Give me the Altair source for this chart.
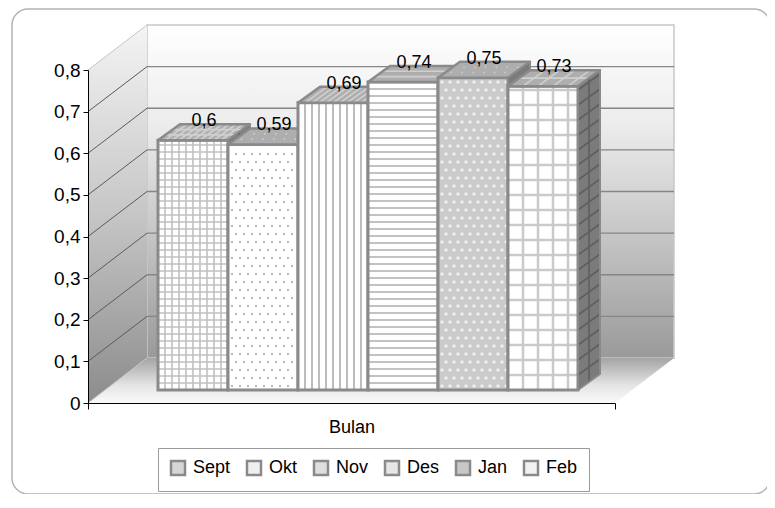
import altair as alt
import pandas as pd

# ---------------- data ----------------
months = ["Sept", "Okt", "Nov", "Des", "Jan", "Feb"]
values = [0.60, 0.59, 0.69, 0.74, 0.75, 0.73]
value_labels = ["0,6", "0,59", "0,69", "0,74", "0,75", "0,73"]
y_ticks = [0.0, 0.1, 0.2, 0.3, 0.4, 0.5, 0.6, 0.7, 0.8]
x_title = "Bulan"

# ---------------- styles ----------------
front_fills = ["#ffffff", "#ffffff", "#ffffff", "#ffffff", "#cbcbcb", "#ffffff"]
legend_fills = ["#d6d6d6", "#efefef", "#dedede", "#e6e6e6", "#c8c8c8", "#f2f2f2"]
# (kind, step in px, color, width)
patterns = [("grid", 7, "#c0c0c0", 1.6), ("dots", 8, "#b8b8b8", 4), ("v", 7, "#bcbcbc", 2.0),
            ("h", 7, "#c2c2c2", 2.0), ("dots", 8, "#f4f4f4", 7), ("grid", 15, "#cacaca", 2.5)]
TOP_FILL = "#aeaeae"
TOP_LINE = "#cfcfcf"
SIDE_FILL = "#7b7b7b"
SIDE_LINE = "#5f5f5f"
FONT = "Liberation Sans"
EDGE = "#8a8a8a"

# ---------------- geometry (plot-area units) ----------------
W, H = 527, 333
YMAX = 0.8
PX = 1.0 / W
PY = YMAX / H
DX, DY = 59 * PX, 45 * PY      # full depth of the box
FX, FY = 17.5 * PX, 13 * PY    # depth of bar front faces
TX, TY = 22 * PX, 16 * PY      # depth of the bars
BW = 70 * PX
START = 52.5 * PX

xs = alt.Scale(domain=[0, 1], nice=False, zero=False)
ys = alt.Scale(domain=[0, YMAX], nice=False, zero=False)

XAXIS = alt.Axis(
    values=[0, 1], labels=False, ticks=True, tickSize=6, tickColor="black",
    domainColor="black", domainWidth=1, grid=False, title=x_title,
    titleFont=FONT, titleFontSize=18, titleFontWeight="normal",
    titleColor="black", titlePadding=9, zindex=1)
YAXIS = alt.Axis(
    values=y_ticks, labelExpr="replace(format(datum.value, '~g'), '.', ',')",
    tickSize=5, tickColor="black", domainColor="black", domainWidth=1,
    labelFont=FONT, labelFontSize=19, labelColor="black", labelPadding=3,
    grid=False, title=None, zindex=1)


def X(f):
    return alt.X(f, type="quantitative", scale=xs, axis=XAXIS)


def Y(f):
    return alt.Y(f, type="quantitative", scale=ys, axis=YAXIS)


def grad(stops):
    return alt.LinearGradient(
        gradient="linear", x1=0, x2=0, y1=0, y2=1,
        stops=[alt.GradientStop(color=c, offset=o) for o, c in stops])


def rules(rows, color, width):
    return alt.Chart(pd.DataFrame(rows)).mark_rule(color=color, strokeWidth=width).encode(
        x=X("x"), x2="x2", y=Y("y"), y2="y2")


layers = []

# outer rounded frame
layers.append(
    alt.Chart(pd.DataFrame({"k": [0]})).mark_rect(
        fill="white", stroke="#b3b3b3", strokeWidth=1.5, cornerRadius=16
    ).encode(x=alt.value(-76), x2=alt.value(682), y=alt.value(-61), y2=alt.value(424))
)

# back wall
back = pd.DataFrame({"x": [DX], "x2": [1 + DX], "y": [DY], "y2": [YMAX + DY]})
layers.append(
    alt.Chart(back).mark_rect(
        fill=grad([(0, "#ffffff"), (0.3, "#ececec"), (1, "#9a9a9a")]),
        stroke="#c8c8c8", strokeWidth=1.5
    ).encode(x=X("x"), x2="x2", y=Y("y"), y2="y2")
)

# left wall
left = pd.DataFrame({"x": [0, DX], "y": [0, DY], "y2": [YMAX, YMAX + DY]})
layers.append(
    alt.Chart(left).mark_area(
        orient="vertical",
        fill=grad([(0, "#f4f4f4"), (0.5, "#c6c6c6"), (1, "#8c8c8c")]),
    ).encode(x=X("x"), y=Y("y"), y2="y2")
)

# floor
floor = pd.DataFrame({"y": [0, DY], "x": [0, DX], "x2": [1, 1 + DX]})
layers.append(
    alt.Chart(floor).mark_area(
        orient="horizontal",
        fill=grad([(0, "#a4a4a4"), (0.6, "#e4e4e4"), (1, "#fafafa")]),
    ).encode(y=Y("y"), x=X("x"), x2="x2")
)

# side-wall diagonals
diag = pd.DataFrame({"y": y_ticks})
diag["y2"] = diag["y"] + DY
diag["x"] = 0.0
diag["x2"] = DX
diag["c"] = ["#c4c4c4" if (v == 0 or v == YMAX) else "#5a5a5a" for v in y_ticks]
layers.append(
    alt.Chart(diag).mark_rule(strokeWidth=1).encode(
        x=X("x"), x2="x2", y=Y("y"), y2="y2", color=alt.Color("c:N", scale=None)
    )
)

# back-wall gridlines
bg = pd.DataFrame({"v": y_ticks[1:-1]})
bg["y"] = bg["v"] + DY
bg["x"] = DX
bg["x2"] = 1 + DX
layers.append(
    alt.Chart(bg).mark_rule(color="#868686", strokeWidth=1.3).encode(
        x=X("x"), x2="x2", y=Y("y")
    )
)

# legend carrier
leg_df = pd.DataFrame({"m": months, "x": [0.5] * 6, "y": [0.4] * 6})
layers.append(
    alt.Chart(leg_df).mark_square(opacity=0, size=50).encode(
        x=X("x"), y=Y("y"),
        color=alt.Color("m:N", scale=alt.Scale(domain=months, range=legend_fills),
                        legend=alt.Legend(
                            orient="none", legendX=70, legendY=378, direction="horizontal",
                            title=None, labelFont=FONT, labelFontSize=18, labelColor="black",
                            symbolType="square", symbolSize=196, symbolStrokeColor=EDGE,
                            symbolStrokeWidth=2.5, symbolOpacity=1, strokeColor="#9a9a9a",
                            fillColor="white", padding=11, columnPadding=11, labelOffset=6)),
    )
)

# bars (painter's order, left to right)
for i, (m, v) in enumerate(zip(months, values)):
    xl = START + i * BW + FX
    xr = xl + BW
    yb, yt = FY, v + FY
    kind, step, pc, pw = patterns[i]

    # ---- front face
    front = pd.DataFrame({"x": [xl], "x2": [xr], "y": [yb], "y2": [yt]})
    layers.append(
        alt.Chart(front).mark_rect(fill=front_fills[i], strokeWidth=0).encode(
            x=X("x"), x2="x2", y=Y("y"), y2="y2")
    )
    if kind == "dots":
        pts = []
        r = 0
        yy = yb + step * PY / 2
        while yy < yt - 2 * PY:
            off = (step / 2 if r % 2 else 0) + 4
            xx = xl + off * PX
            while xx < xr - 2 * PX:
                pts.append({"x": xx, "y": yy})
                xx += step * PX
            yy += step * PY
            r += 1
        layers.append(
            alt.Chart(pd.DataFrame(pts)).mark_square(color=pc, size=pw, opacity=1).encode(
                x=X("x"), y=Y("y"))
        )
    elif kind:
        rows = []
        if kind in ("grid", "v"):
            k = 1
            while xl + k * step * PX < xr - 1 * PX:
                xx = xl + k * step * PX
                rows.append({"x": xx, "x2": xx, "y": yb, "y2": yt})
                k += 1
        if kind in ("grid", "h"):
            k = 1
            while yb + k * step * PY < yt - 1 * PY:
                yy = yb + k * step * PY
                rows.append({"x": xl, "x2": xr, "y": yy, "y2": yy})
                k += 1
        layers.append(rules(rows, pc, pw))
    layers.append(
        alt.Chart(front).mark_rect(fillOpacity=0, stroke=EDGE, strokeWidth=3).encode(
            x=X("x"), x2="x2", y=Y("y"), y2="y2")
    )

    # ---- top face
    top = pd.DataFrame({"y": [yt, yt + TY], "x": [xl, xl + TX], "x2": [xr, xr + TX]})
    layers.append(
        alt.Chart(top).mark_area(orient="horizontal", fill=TOP_FILL).encode(
            y=Y("y"), x=X("x"), x2="x2")
    )
    trows = []
    if kind in ("grid", "v"):
        k = 1
        while xl + k * step * PX < xr - 1 * PX:
            xx = xl + k * step * PX
            trows.append({"x": xx, "x2": xx + TX, "y": yt, "y2": yt + TY})
            k += 1
    if kind in ("grid", "h"):
        n = max(1, int(16 / step))
        for k in range(1, n + 1):
            f = k / (n + 1)
            trows.append({"x": xl + f * TX, "x2": xr + f * TX, "y": yt + f * TY, "y2": yt + f * TY})
    if kind == "dots":
        for k in range(6):
            for f in (0.33, 0.66):
                xx = xl + (k + 0.5 + (0.5 if f > 0.5 else 0)) * BW / 6.5 + f * TX
                trows.append({"x": xx, "x2": xx + 1.5 * PX, "y": yt + f * TY, "y2": yt + f * TY})
    if trows:
        layers.append(rules(trows, TOP_LINE, 1.6))
    layers.append(
        alt.Chart(top).mark_area(orient="horizontal", fillOpacity=0, stroke=EDGE,
                                 strokeWidth=2.5, strokeJoin="round").encode(
            y=Y("y"), x=X("x"), x2="x2")
    )

    # ---- right side face
    side = pd.DataFrame({"x": [xr, xr + TX], "y": [yb, yb + TY], "y2": [yt, yt + TY]})
    layers.append(
        alt.Chart(side).mark_area(orient="vertical", fill=SIDE_FILL).encode(
            x=X("x"), y=Y("y"), y2="y2")
    )
    srows = []
    if kind in ("grid", "h"):
        k = 1
        while yb + k * step * PY < yt - 1 * PY:
            yy = yb + k * step * PY
            srows.append({"x": xr, "x2": xr + TX, "y": yy, "y2": yy + TY})
            k += 1
    if kind in ("grid", "v"):
        srows.append({"x": xr + 0.5 * TX, "x2": xr + 0.5 * TX,
                      "y": yb + 0.5 * TY, "y2": yt + 0.5 * TY})
    if srows:
        layers.append(rules(srows, SIDE_LINE, 1.6))
    layers.append(
        alt.Chart(side).mark_area(orient="vertical", fillOpacity=0, stroke=EDGE,
                                  strokeWidth=2, strokeJoin="round").encode(
            x=X("x"), y=Y("y"), y2="y2")
    )

# value labels
lab = pd.DataFrame({"t": value_labels, "v": values})
lab["x"] = [START + i * BW + FX + BW / 2 + TX / 2 for i in range(len(values))]
lab["y"] = lab["v"] + FY + TY
layers.append(
    alt.Chart(lab).mark_text(font=FONT, fontSize=18, color="black", baseline="middle", dy=-3).encode(
        x=X("x"), y=Y("y"), text="t:N")
)

chart = alt.layer(*layers).properties(
    width=W, height=H,
    autosize=alt.AutoSizeParams(type="none"),
    padding={"left": 80, "top": 62, "right": 152, "bottom": 91},
).configure_view(stroke=None)

chart.save("out.html", embed_options={"renderer": "svg", "actions": False})
